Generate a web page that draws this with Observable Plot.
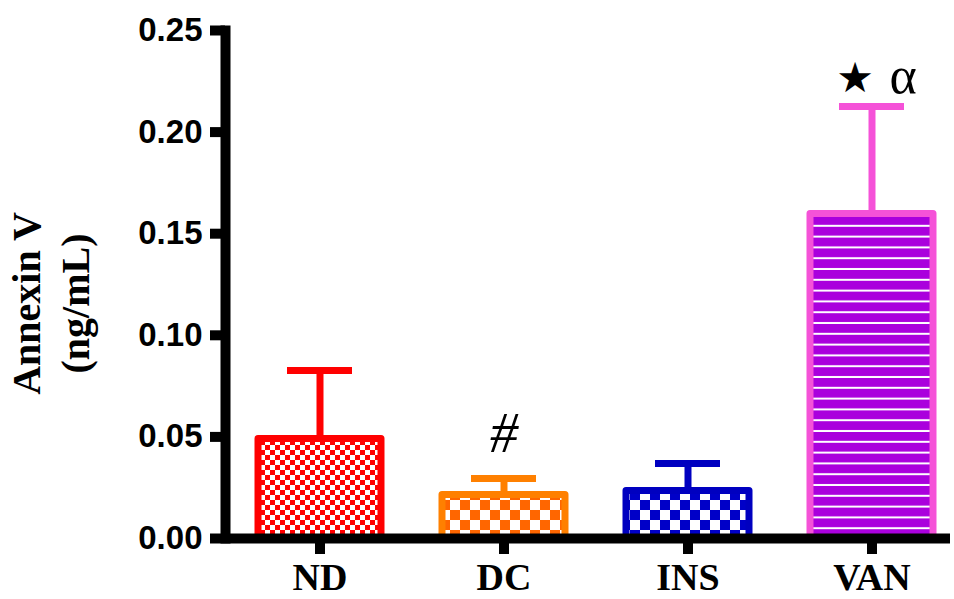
<!DOCTYPE html>
<html><head><meta charset="utf-8">
<script src="https://cdn.jsdelivr.net/npm/d3@7"></script>
<script src="https://cdn.jsdelivr.net/npm/@observablehq/plot@0.6"></script>
<style>body{margin:0;background:#fff;}</style>
</head><body>
<svg width="0" height="0" style="position:absolute">
<defs>
 <pattern id="pND" width="10" height="10" patternUnits="userSpaceOnUse">
   <rect width="10" height="10" fill="#fff"/>
   <rect width="5" height="5" fill="#ff0000"/>
   <rect x="5" y="5" width="5" height="5" fill="#ff0000"/>
 </pattern>
 <pattern id="pDC" width="20" height="20" patternUnits="userSpaceOnUse">
   <rect width="20" height="20" fill="#fff"/>
   <rect width="10" height="10" fill="#ff6600"/>
   <rect x="10" y="10" width="10" height="10" fill="#ff6600"/>
 </pattern>
 <pattern id="pINS" width="20" height="20" patternUnits="userSpaceOnUse">
   <rect width="20" height="20" fill="#fff"/>
   <rect width="10" height="10" fill="#0000c8"/>
   <rect x="10" y="10" width="10" height="10" fill="#0000c8"/>
 </pattern>
 <pattern id="pVAN" width="10" height="10.8" patternUnits="userSpaceOnUse">
   <rect width="10" height="10.8" fill="#aa00dd"/>
   <rect y="8.8" width="10" height="2" fill="#fff"/>
 </pattern>
</defs></svg>
<div id="chart"></div>
<script>
// data
const groups = ["ND", "DC", "INS", "VAN"];
const means = [0.049, 0.0214, 0.0234, 0.1597];
const upper = [0.0827, 0.0295, 0.0369, 0.2126];
const noteGroups = ["DC", "VAN", "VAN"];
const noteText = ["#", "\u2605", "\u03b1"];
const noteY = [0.0512, 0.2262, 0.2275];
const yTicks = [0, 0.05, 0.10, 0.15, 0.20, 0.25];

// styles
const strokeOf = {ND: "#ff0000", DC: "#ff8000", INS: "#0000c0", VAN: "#f552d8"};
const fillOf = {ND: "url(#pND)", DC: "url(#pDC)", INS: "url(#pINS)", VAN: "url(#pVAN)"};

const data = groups.map((g, i) => ({group: g, mean: means[i], upper: upper[i]}));
const notes = noteGroups.map((g, i) => ({group: g, text: noteText[i], y: noteY[i]}));

const chart = Plot.plot({
  width: 954,
  height: 599,
  marginLeft: 225,
  marginRight: 4,
  marginTop: 30,
  marginBottom: 61,
  style: {background: "#fff", overflow: "visible"},
  x: {domain: groups, range: [225, 965], paddingInner: 0.334, paddingOuter: 0.17, label: null},
  y: {domain: [0, 0.25], label: null},
  color: {type: "identity"},
  marks: [
    Plot.ruleX(data, {x: "group", y1: "mean", y2: "upper", stroke: d => strokeOf[d.group], strokeWidth: 7}),
    Plot.tickY(data, {x: "group", y: "upper", stroke: d => strokeOf[d.group], strokeWidth: 7, insetLeft: 29, insetRight: 29}),
    Plot.barY(data, {x: "group", y: "mean", fill: d => fillOf[d.group], stroke: d => strokeOf[d.group], strokeWidth: 7, strokeLinejoin: "round"}),
    Plot.axisX({tickSize: 16, tickPadding: 9, strokeWidth: 10, fontSize: 38, fontWeight: "bold", fontFamily: "Liberation Serif", label: null, color: "#000"}),
    Plot.axisY({ticks: yTicks, tickSize: 15, tickPadding: 8, tickFormat: d3.format(".2f"), strokeWidth: 10, fontSize: 33, fontWeight: "bold", fontFamily: "Liberation Sans", label: null, color: "#000"}),
    Plot.frame({anchor: "left", strokeWidth: 10, stroke: "#000"}),
    Plot.ruleY([0], {strokeWidth: 10, stroke: "#000"}),
    Plot.text(notes.filter(d => d.text === "#"), {x: "group", y: "y", text: "text", fontSize: 56, fontStyle: "italic", fontFamily: "Liberation Serif", fill: "#000", lineAnchor: "middle"}),
    Plot.text(notes.filter(d => d.text === "\u2605"), {x: "group", y: "y", text: "text", dx: -17, fontSize: 42, fontFamily: "DejaVu Sans", fill: "#000", lineAnchor: "middle"}),
    Plot.text(notes.filter(d => d.text === "\u03b1"), {x: "group", y: "y", text: "text", dx: 31, fontSize: 52, fontFamily: "Liberation Serif", fill: "#000", lineAnchor: "middle"}),
    Plot.text(["Annexin V\n(ng/mL)"], {frameAnchor: "left", rotate: -90, dx: -177, dy: 19, fontSize: 40, fontWeight: "bold", fontFamily: "Liberation Serif", lineHeight: 1.22, fill: "#000", textAnchor: "middle", lineAnchor: "middle"})
  ]
});
document.getElementById("chart").appendChild(chart);
</script>
</body></html>
